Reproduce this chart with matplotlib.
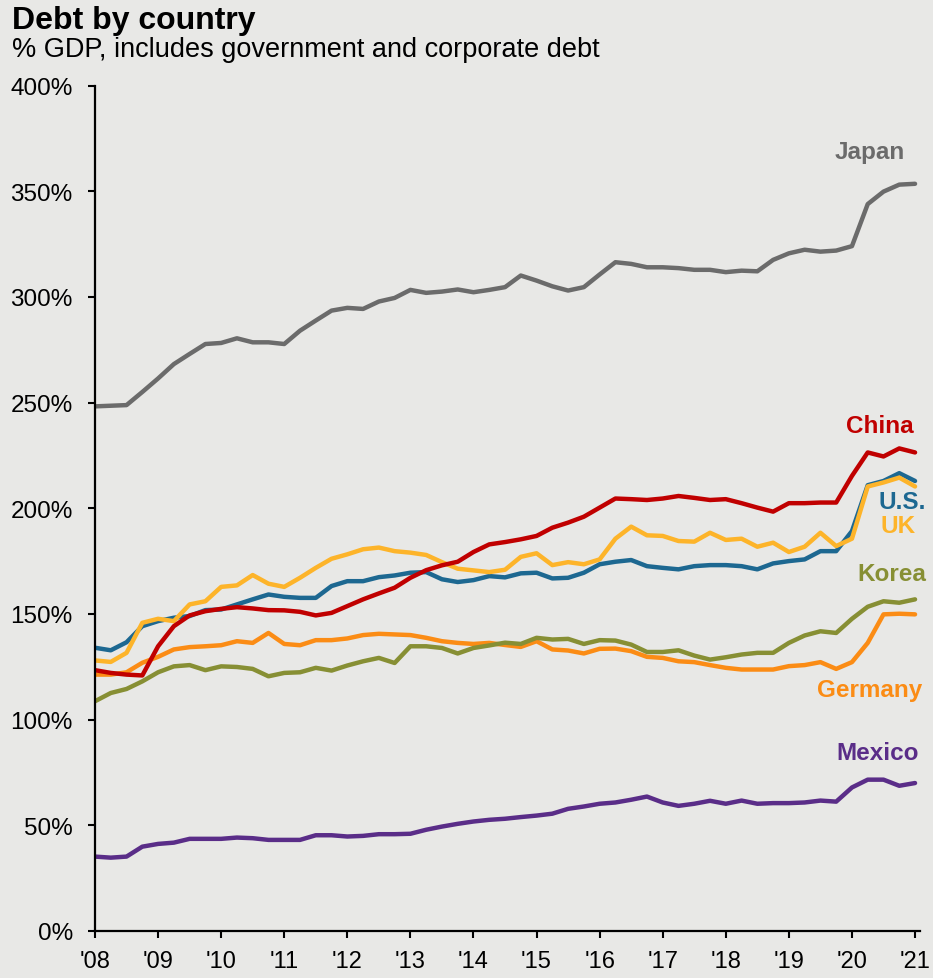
import numpy as np
import matplotlib
matplotlib.use("Agg")
import matplotlib.pyplot as plt

plt.rcParams['font.family'] = ['Liberation Sans', 'DejaVu Sans']

# quarterly, 1Q08 .. 1Q21
quarters = 2008 + np.arange(53) / 4

japan = [248.2, 248.5, 248.8, 255.0, 261.4, 268.2, 273.0, 277.7, 278.2, 280.4,
         278.5, 278.5, 277.7, 284.0, 288.8, 293.5, 294.8, 294.3, 297.8, 299.5,
         303.3, 301.9, 302.5, 303.5, 302.2, 303.3, 304.6, 310.1, 307.7, 305.0,
         303.0, 304.6, 310.6, 316.4, 315.6, 314.0, 314.0, 313.6, 312.8, 312.8,
         311.7, 312.4, 312.1, 317.5, 320.6, 322.3, 321.4, 321.9, 324.0, 343.9,
         349.8, 353.1, 353.5]
china = [123.4, 122.1, 121.3, 120.9, 134.7, 144.2, 149.3, 151.3, 152.4, 153.2,
         152.6, 151.8, 151.7, 151.0, 149.3, 150.5, 153.7, 156.9, 159.7, 162.4,
         167.1, 170.7, 173.0, 174.7, 179.3, 182.9, 184.0, 185.3, 186.9, 190.8,
         193.2, 196.0, 200.3, 204.6, 204.3, 203.9, 204.6, 205.8, 204.9, 203.9,
         204.3, 202.4, 200.3, 198.4, 202.4, 202.4, 202.7, 202.7, 215.3, 226.4,
         224.5, 228.3, 226.4]
us = [134.0, 132.8, 136.6, 144.2, 146.6, 148.2, 149.0, 151.8, 152.1, 154.5,
      156.9, 159.2, 158.1, 157.6, 157.6, 163.2, 165.5, 165.5, 167.4, 168.2,
      169.5, 169.8, 166.4, 165.1, 166.0, 167.9, 167.3, 169.2, 169.5, 166.8,
      167.1, 169.5, 173.5, 174.7, 175.5, 172.6, 171.8, 171.1, 172.6, 173.1,
      173.1, 172.6, 171.1, 173.9, 175.0, 175.8, 179.7, 179.7, 189.2, 210.9,
      212.9, 216.6, 212.9]
uk = [128.0, 127.3, 131.6, 145.8, 147.7, 146.6, 154.5, 156.0, 162.8, 163.5,
      168.4, 164.3, 162.8, 167.1, 171.8, 176.1, 178.2, 180.6, 181.4, 179.7,
      179.0, 177.9, 174.5, 171.4, 170.6, 169.8, 170.9, 177.0, 178.7, 173.1,
      174.5, 173.5, 175.8, 185.6, 191.3, 187.2, 186.9, 184.5, 184.2, 188.4,
      185.0, 185.6, 181.8, 183.7, 179.3, 181.8, 188.4, 182.1, 185.6, 210.3,
      212.2, 214.5, 210.3]
korea = [108.7, 112.6, 114.5, 118.1, 122.4, 125.2, 125.8, 123.4, 125.2, 124.9,
         124.0, 120.5, 122.1, 122.4, 124.5, 123.2, 125.6, 127.6, 129.2, 126.8,
         134.7, 134.7, 133.9, 131.3, 133.9, 135.1, 136.4, 135.8, 138.7, 137.9,
         138.2, 135.8, 137.6, 137.4, 135.5, 132.0, 132.0, 132.8, 130.3, 128.4,
         129.5, 130.8, 131.6, 131.6, 136.3, 139.8, 141.8, 141.0, 147.7, 153.4,
         156.0, 155.3, 156.9]
germany = [121.3, 121.3, 122.4, 126.9, 129.7, 133.2, 134.3, 134.7, 135.2, 137.1,
           136.3, 141.0, 135.8, 135.2, 137.6, 137.6, 138.4, 140.0, 140.6, 140.3,
           140.0, 138.7, 137.1, 136.3, 135.8, 136.3, 135.3, 134.4, 137.1, 133.2,
           132.7, 131.3, 133.5, 133.6, 132.4, 129.7, 129.2, 127.6, 127.2, 125.8,
           124.5, 123.7, 123.7, 123.7, 125.3, 125.8, 127.2, 124.0, 127.2, 136.3,
           149.8, 150.1, 149.8]
mexico = [35.2, 34.7, 35.2, 39.9, 41.2, 41.8, 43.6, 43.6, 43.6, 44.2,
          43.9, 43.1, 43.1, 43.1, 45.3, 45.3, 44.7, 45.0, 45.8, 45.8,
          46.0, 47.9, 49.4, 50.7, 51.8, 52.6, 53.1, 53.9, 54.6, 55.5,
          57.8, 58.9, 60.2, 60.8, 62.1, 63.6, 60.8, 59.2, 60.2, 61.6,
          60.2, 61.7, 60.2, 60.5, 60.5, 60.8, 61.7, 61.2, 67.9, 71.6,
          71.6, 68.7, 70.0]

names = ['Germany', 'Korea', 'Mexico', 'Japan', 'U.S.', 'UK', 'China']
series = [germany, korea, mexico, japan, us, uk, china]
colors = ['#fb8c15', '#878f34', '#5a2d88', '#6b6b6b', '#1d6891', '#fdb42a', '#c00000']
# label anchor (right edge, centre) in data units
label_x = [2021.11, 2021.17, 2021.06, 2020.84, 2021.17, 2021.01, 2020.98]
label_y = [114.2, 169.2, 84.4, 369.0, 203.3, 192.0, 239.3]

bg = '#e8e8e6'
fig = plt.figure(figsize=(9.33, 9.79), dpi=100, facecolor=bg)
ax = fig.add_axes([95 / 933, 1 - 932 / 979, 825 / 933, 845.5 / 979], facecolor=bg)

for name, vals, c, lx, ly in zip(names, series, colors, label_x, label_y):
    ax.plot(quarters, vals, color=c, lw=3.2, solid_capstyle='round', solid_joinstyle='round')
    ax.text(lx, ly, name, color=c, fontsize=17.5, fontweight='bold',
            ha='right', va='center')

ax.set_xlim(2008, 2008 + 825 / 63.08)
ax.set_ylim(0, 400)
ax.set_xticks(np.arange(2008, 2022))
ax.set_xticklabels(["'%02d" % (y % 100) for y in range(2008, 2022)])
ax.set_yticks(np.arange(0, 401, 50))
ax.set_yticklabels(['%d%%' % v for v in range(0, 401, 50)])
ax.tick_params(axis='both', width=1.5, length=5, direction='out', color='black')
ax.tick_params(axis='x', labelsize=17, pad=8.5)
ax.tick_params(axis='y', labelsize=17.5, pad=11)
for s in ['top', 'right']:
    ax.spines[s].set_visible(False)
for s in ['left', 'bottom']:
    ax.spines[s].set_linewidth(1.6)

fig.text(12 / 933, 1 - 29.5 / 979, 'Debt by country', fontsize=23, fontweight='bold',
         ha='left', va='baseline')
fig.text(12 / 933, 1 - 57 / 979, '% GDP, includes government and corporate debt',
         fontsize=19.5, ha='left', va='baseline')

fig.savefig('out.png', dpi=100, facecolor=bg)
